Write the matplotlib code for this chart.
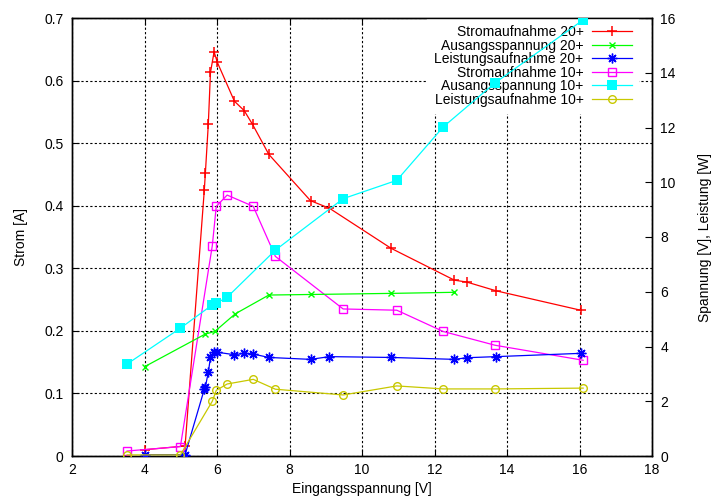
import matplotlib
matplotlib.use("Agg")
import matplotlib.pyplot as plt

plt.rcParams['font.family'] = ['Liberation Sans', 'DejaVu Sans']
plt.rcParams['lines.scale_dashes'] = False

# ---- data ----
x20 = [4.0, 5.12, 5.65, 5.68, 5.76, 5.82, 5.92, 6.01, 6.48, 6.75, 6.98, 7.43,
       8.58, 9.1, 10.8, 12.55, 12.89, 13.7, 16.03]
strom20 = [0.010, 0.016, 0.425, 0.453, 0.530, 0.613, 0.646, 0.629, 0.567, 0.552,
           0.530, 0.482, 0.408, 0.396, 0.332, 0.281, 0.278, 0.264, 0.233]
leistung20 = [0.05, 0.05, 2.44, 2.53, 3.06, 3.60, 3.81, 3.79, 3.70, 3.75,
              3.73, 3.60, 3.53, 3.63, 3.60, 3.53, 3.59, 3.63, 3.75]
x20_sp = [4.0, 5.67, 5.94, 6.5, 7.43, 8.58, 10.8, 12.55]
spannung20 = [3.26, 4.45, 4.55, 5.19, 5.88, 5.90, 5.94, 5.98]

x10 = [3.52, 4.99, 5.87, 5.98, 6.28, 7.0, 7.61, 9.48, 10.96, 12.24, 13.67, 16.1]
strom10 = [0.008, 0.015, 0.336, 0.399, 0.417, 0.399, 0.319, 0.235, 0.233, 0.199,
           0.177, 0.153]
leistung10 = [0.04, 0.04, 2.00, 2.40, 2.63, 2.80, 2.44, 2.23, 2.56, 2.45, 2.45, 2.48]
x10_sp = [3.52, 4.99, 5.87, 5.98, 6.28, 7.61, 9.48, 10.96, 12.24, 13.67, 16.1]
spannung10 = [3.36, 4.67, 5.52, 5.58, 5.80, 7.52, 9.40, 10.07, 12.02, 13.63, 15.93]

labels = ["Stromaufnahme 20+", "Ausangsspannung 20+", "Leistungsaufnahme 20+",
          "Stromaufnahme 10+", "Ausangsspannung 10+", "Leistungsaufnahme 10+"]
xticks = [2, 4, 6, 8, 10, 12, 14, 16, 18]
yticks = [0, 0.1, 0.2, 0.3, 0.4, 0.5, 0.6, 0.7]
y2ticks = [0, 2, 4, 6, 8, 10, 12, 14, 16]

FS = 10
lw = 0.9
fig = plt.figure(figsize=(7.13, 5.0), dpi=100)
ax1 = fig.add_axes([72/713, 44/500, 580/713, 438/500])
ax2 = ax1.twinx()

ast = (8, 2, 0)
h = []
h += ax1.plot(x20, strom20, color='#ff0000', lw=lw, marker='+', ms=6.5, mew=1.1, label=labels[0])
h += ax2.plot(x20_sp, spannung20, color='#00ff00', lw=lw, marker='x', ms=5, mew=1.0, label=labels[1])
h += ax2.plot(x20, leistung20, color='#0000ff', lw=lw, marker=ast, ms=7, mew=1.0, label=labels[2])
h += ax1.plot(x10, strom10, color='#ff00ff', lw=lw, marker='s', ms=5.5, mfc='none', mew=1.0, label=labels[3])
h += ax2.plot(x10_sp, spannung10, color='#00ffff', lw=lw, marker='s', ms=6.5, mew=0, label=labels[4])
h += ax2.plot(x10, leistung10, color='#c8c800', lw=lw, marker='o', ms=5.5, mfc='none', mew=1.0, label=labels[5])

ax1.set_xlim(2, 18)
ax1.set_ylim(0, 0.7)
ax2.set_ylim(0, 16)
ax1.set_xticks(xticks)
ax1.set_xticklabels([str(t) for t in xticks], fontsize=FS)
ax1.set_yticks(yticks)
ax1.set_yticklabels(['0'] + ['%.1f' % t for t in yticks[1:]], fontsize=FS)
ax2.set_yticks(y2ticks)
ax2.set_yticklabels([str(t) for t in y2ticks], fontsize=FS)

ax1.tick_params(axis='x', direction='in', length=5, width=0.8, top=True, pad=5)
ax1.tick_params(axis='y', direction='in', length=5, width=0.8, right=False, pad=6)
ax2.tick_params(axis='y', direction='in', length=5, width=0.8, pad=6)

ax1.set_axisbelow(True)
ax1.grid(True, color='black', linestyle=(0, (1.6, 1.6)), linewidth=0.8)
for ax in (ax1, ax2):
    for s in ax.spines.values():
        s.set_linewidth(1.0)

ax1.set_xlabel("Eingangsspannung [V]", fontsize=FS, labelpad=4)
ax1.set_ylabel("Strom [A]", fontsize=FS, labelpad=12)
ax2.set_ylabel("Spannung [V], Leistung [W]", fontsize=FS, labelpad=16)

leg = ax2.legend(handles=h, loc='upper right', bbox_to_anchor=(1 - 13/580, 1.0),
                 markerfirst=False, fontsize=FS,
                 frameon=True, framealpha=1.0, facecolor='white', edgecolor='none',
                 fancybox=False, handlelength=2.9, labelspacing=-0.03,
                 borderaxespad=0.0, borderpad=0.5, handletextpad=0.6)
leg.set_zorder(1)
for l in h:
    l.set_zorder(3)

fig.savefig("out.png", dpi=100)
